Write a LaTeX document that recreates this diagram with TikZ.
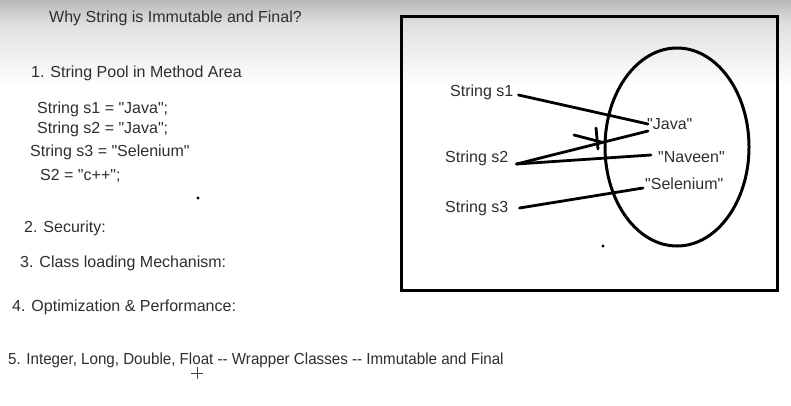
\documentclass[tikz,border=0pt]{standalone}
\usepackage{fontspec}
\newfontfamily\lsans{Liberation Sans}
\usetikzlibrary{calc}
\begin{document}
\begin{tikzpicture}[x=1pt,y=-1pt,
  txt/.style={anchor=west,inner sep=0pt,text=black!82,font=\lsans\fontsize{16}{19}\selectfont},
  wire/.style={line width=2.8pt,line cap=round,black},
  frame/.style={line width=3pt,black}]
\useasboundingbox (0,0) rectangle (791,405);
\fill[white] (0,0) rectangle (791,405);
\shade[top color=gray!55,bottom color=gray!24] (0,0) rectangle (791,25);
\shade[top color=gray!24,bottom color=white] (0,25) rectangle (791,85);
% left texts
\node[txt] (title) at (49,18) {Why String is Immutable and Final?};
\node[txt] (p1) at (31,73) {1. String Pool in Method Area};
\node[txt] (c1) at (37,109) {String s1 = "Java";};
\node[txt] (c2) at (37,129) {String s2 = "Java";};
\node[txt] (c3) at (30,152) {String s3 = "Selenium"};
\node[txt] (c4) at (40,176) {S2 = "c++";};
\node[txt] (p2) at (24,228) {2. Security:};
\node[txt] (p3) at (20,263) {3. Class loading Mechanism:};
\node[txt] (p4) at (12,307) {4. Optimization \& Performance:};
\node[txt,xscale=0.947] (p5) at (8,360) {5. Integer, Long, Double, Float -- Wrapper Classes -- Immutable and Final};
\fill[black] (198,198) circle (1.6);
\draw[black!75,line width=0.8pt] (191,373) -- (203,373) (197,367) -- (197,379);
% right box
\draw[frame] (401,16) rectangle (777,290);
\draw[frame] (677,147) ellipse [x radius=72, y radius=99];
\node[txt] (s1) at (450,92) {String s1};
\node[txt] (s2) at (445,158) {String s2};
\node[txt] (s3) at (445,208) {String s3};
\node[txt] (java) at (647,124) {"Java"};
\node[txt] (naveen) at (658,157) {"Naveen"};
\node[txt] (sel) at (645,184) {"Selenium"};
\draw[wire] ($(s1.east)+(5,3)$) -- ($(java.west)+(1,0)$);
\draw[wire] ($(s2.east)+(8,6)$) -- ($(java.west)+(1,7)$);
\draw[wire] ($(s2.east)+(8,6)$) -- ($(naveen.west)+(-7,-2)$);
\draw[wire] ($(s3.east)+(11,0)$) -- ($(sel.west)+(-2,4)$);
\draw[wire] (574,135) -- (601,142);
\draw[wire] (596,128) -- (598,149);
\fill[black] (603,246) circle (1.6);
\end{tikzpicture}
\end{document}
